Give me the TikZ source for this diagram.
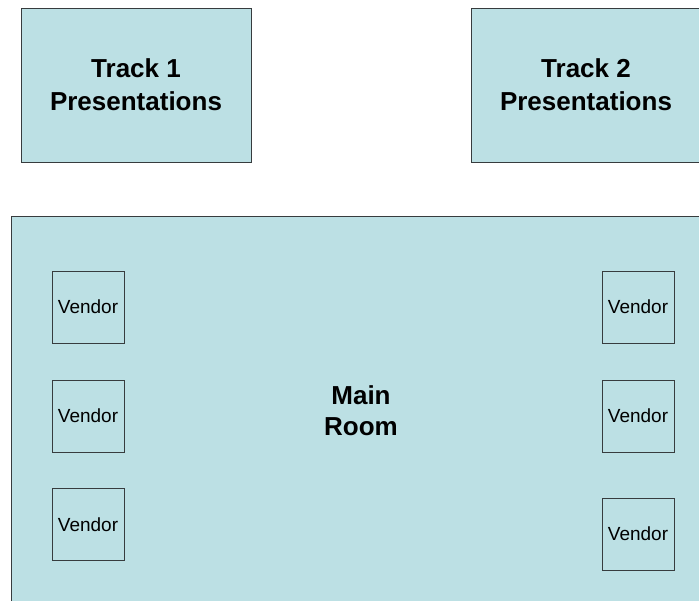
\documentclass[tikz,border=0pt]{standalone}
\usepackage{fontspec}
\setmainfont{Liberation Sans}
\definecolor{roomblue}{RGB}{188,224,228}
\definecolor{roomedge}{RGB}{55,60,62}
\begin{document}
\begin{tikzpicture}[
x=1pt, y=-1pt,
every node/.style={
draw=roomedge,
line width=0.9pt,
fill=roomblue,
align=center,
inner sep=0pt
},
track/.style={
minimum width=230pt,
minimum height=154pt,
font=\bfseries\fontsize{26}{33}\selectfont
},
vendor/.style={
minimum width=72pt,
minimum height=72pt,
font=\fontsize{19}{22}\selectfont
}
]

\useasboundingbox (0,0) rectangle (699,601);

\node[track] (T1) at (136,85)
{Track 1\\Presentations};

\node[track] (T2) at (586,85)
{Track 2\\Presentations};

\node[minimum width=700pt, minimum height=400pt] (Room) at (361,416) {};

\node[draw=none, fill=none, font=\bfseries\fontsize{26}{31}\selectfont] (RoomLabel) at (361,411)
{Main\\Room};

\node[vendor] (VL1) at (88,307) {Vendor};
\node[vendor] (VL2) at (88,416) {Vendor};
\node[vendor] (VL3) at (88,524.5) {Vendor};

\node[vendor] (VR1) at (638,307) {Vendor};
\node[vendor] (VR2) at (638,416) {Vendor};
\node[vendor] (VR3) at (638,534) {Vendor};

\end{tikzpicture}
\end{document}
